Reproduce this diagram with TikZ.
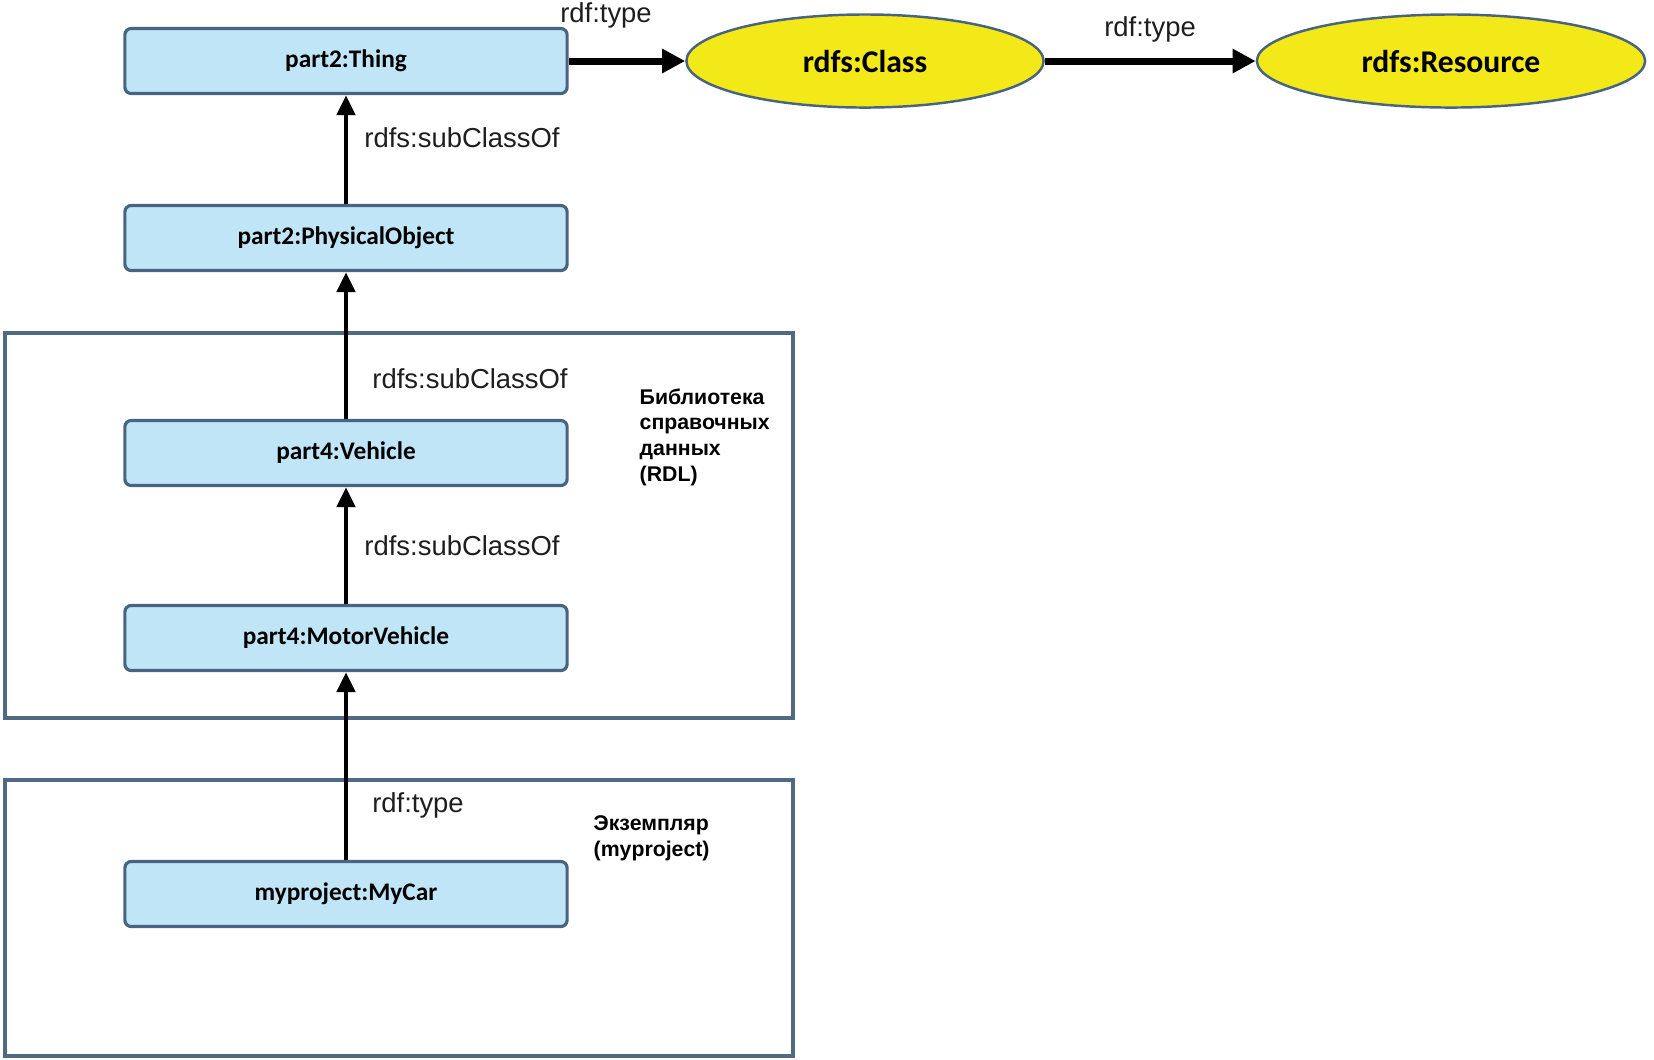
\documentclass[tikz,border=0pt]{standalone}
\usepackage{fontspec}
\setmainfont{Liberation Sans}
\newfontfamily\boxfont{Carlito}
\usetikzlibrary{arrows.meta,shapes.geometric}
\definecolor{boxblue}{RGB}{192,229,246}
\definecolor{boxline}{RGB}{72,100,128}
\definecolor{classyellow}{RGB}{243,233,24}
\definecolor{framegrey}{RGB}{80,106,132}
\definecolor{labelgrey}{RGB}{30,30,30}
\tikzstyle{rdlbox}=[draw=boxline, fill=boxblue, line width=0.9pt, rounded corners=1.8pt, minimum width=4.42cm, minimum height=0.65cm, font=\boxfont\bfseries\fontsize{7.2}{8}\selectfont]
\tikzstyle{rdfsnode}=[ellipse, draw=boxline, fill=classyellow, line width=0.7pt, minimum height=0.93cm, font=\boxfont\bfseries\fontsize{9}{10}\selectfont]
\tikzstyle{relation}=[line width=1.4pt, -{Triangle[length=2mm,width=1.8mm]}]
\tikzstyle{typeof}=[line width=2pt, -{Triangle[length=2.3mm,width=2.3mm]}]
\tikzstyle{rellabel}=[text=labelgrey, inner sep=0pt, font=\fontsize{7.8}{9}\selectfont]
\tikzstyle{area}=[draw=framegrey, line width=0.9pt]
\tikzstyle{arealabel}=[inner sep=0pt, align=left, font=\bfseries\fontsize{6.05}{7.3}\selectfont]

\begin{document}
\begin{tikzpicture}[x=0.01cm, y=-0.01cm]
	\useasboundingbox (0,0) rectangle (1654,1059);
	% frames
	\draw[area] (5,333) rectangle (793,718);
	\draw[area] (5,780) rectangle (793,1056);
	\node[arealabel, anchor=west] (rdlName) at (639,437) {Библиотека\\справочных\\данных\\(RDL)};
	\node[arealabel, anchor=west] (myprojectName) at (593,838) {Экземпляр\\(myproject)};

	% classes
	\node[rdlbox] (thing) at (346,61) {part2:Thing};
	\node[rdlbox] (physObj) at (346,238) {part2:PhysicalObject};
	\node[rdlbox] (vehicle) at (346,453) {part4:Vehicle};
	\node[rdlbox] (motorVehicle) at (346,638) {part4:MotorVehicle};
	\node[rdlbox] (myCar) at (346,894) {myproject:MyCar};

	\node[rdfsnode, minimum width=3.57cm] (rdfsClass) at (865,61) {rdfs:Class};
	\node[rdfsnode, minimum width=3.88cm] (rdfsResource) at (1451,61) {rdfs:Resource};

	% relations
	\draw[typeof] (thing) -- (rdfsClass);
	\draw[typeof] (rdfsClass) -- (rdfsResource);
	\draw[relation] (physObj) -- (thing);
	\draw[relation] (vehicle) -- (physObj);
	\draw[relation] (motorVehicle) -- (vehicle);
	\draw[relation] (myCar) -- (motorVehicle);

	\node[rellabel] (typeThing) at (606,15) {rdf:type};
	\node[rellabel] (typeClass) at (1150,29) {rdf:type};
	\node[rellabel] (subPhys) at (462,138) {rdfs:subClassOf};
	\node[rellabel] (subVehicle) at (470,379) {rdfs:subClassOf};
	\node[rellabel] (subMotor) at (462,546) {rdfs:subClassOf};
	\node[rellabel] (typeCar) at (418,805) {rdf:type};
\end{tikzpicture}
\end{document}
